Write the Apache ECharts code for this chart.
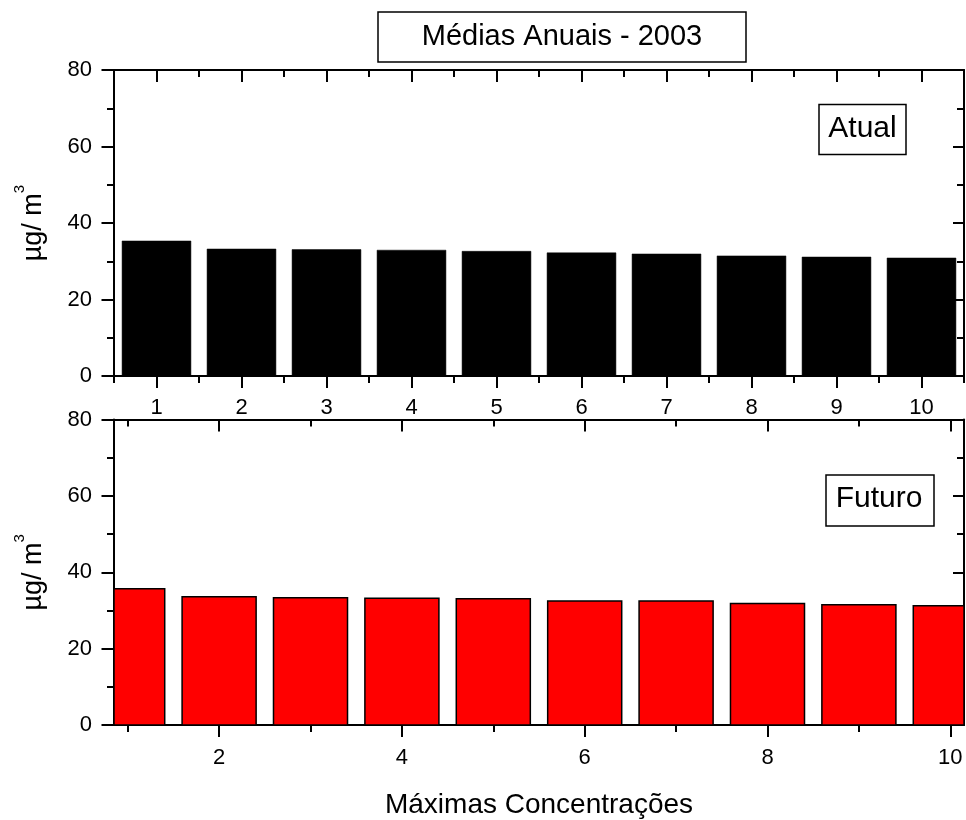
<!DOCTYPE html>
<html>
<head>
<meta charset="utf-8">
<script src="https://cdn.jsdelivr.net/npm/echarts@6/dist/echarts.min.js"></script>
<style>
  html, body { margin: 0; padding: 0; background: #fff; }
  #chart { width: 966px; height: 820px; }
</style>
</head>
<body>
<div id="chart"></div>
<script>
// Rank of each maximum (1st .. 10th highest concentration)
const positions = [1, 2, 3, 4, 5, 6, 7, 8, 9, 10];
// Annual means, µg/m³
const atual = [35.3, 33.2, 33.05, 32.9, 32.6, 32.2, 31.9, 31.4, 31.1, 30.85];
const futuro = [35.7, 33.6, 33.3, 33.2, 33.05, 32.5, 32.45, 31.8, 31.5, 31.2];

// Tick positions on the horizontal axes
const topMajorTicks = [1, 2, 3, 4, 5, 6, 7, 8, 9, 10];
const topMinorTicks = [0.5, 1.5, 2.5, 3.5, 4.5, 5.5, 6.5, 7.5, 8.5, 9.5, 10.5];
const bottomMajorTicks = [2, 4, 6, 8, 10];
const bottomMinorTicks = [1, 3, 5, 7, 9];

// Texts
const chartTitle = 'Médias Anuais - 2003';
const labelAtual = 'Atual';
const labelFuturo = 'Futuro';
const xTitle = 'Máximas Concentrações';

const FONT = '"Liberation Sans", Arial, Helvetica, sans-serif';
const INK = '#000';
const BAR_RATIO = 0.81;

function hAxis(gridIndex, position, min, max, ticks, tickLen, inside, showLine, showLabel, labelMargin, extra) {
  return Object.assign({
    gridIndex: gridIndex,
    type: 'value',
    position: position,
    min: min,
    max: max,
    axisLine: { show: showLine, onZero: false, lineStyle: { color: INK, width: 2 } },
    axisTick: { show: true, inside: inside, length: tickLen, customValues: ticks,
                lineStyle: { color: INK, width: 2 } },
    axisLabel: { show: showLabel, customValues: ticks, margin: labelMargin,
                 color: INK, fontSize: 22, fontFamily: FONT },
    splitLine: { show: false }
  }, extra || {});
}

const yName = {
  name: '{a|µg/ m}{b|3}',
  nameLocation: 'middle',
  nameGap: 58,
  nameTextStyle: {
    rich: {
      a: { fontSize: 27, fontFamily: FONT, color: INK, lineHeight: 44 },
      b: { fontSize: 15, fontFamily: FONT, color: INK, verticalAlign: 'top', lineHeight: 15 }
    }
  }
};

function vAxis(gridIndex, position) {
  const left = position === 'left';
  return Object.assign({
    gridIndex: gridIndex,
    type: 'value',
    position: position,
    min: 0,
    max: 80,
    interval: 20,
    axisLine: { show: true, onZero: false, lineStyle: { color: INK, width: 2 } },
    axisTick: { show: true, inside: !left, length: left ? 12.5 : 11, lineStyle: { color: INK, width: 2 } },
    minorTick: { show: true, splitNumber: 2, length: 7, lineStyle: { color: INK, width: 2 } },
    axisLabel: { show: left, margin: 22, color: INK, fontSize: 22, fontFamily: FONT },
    splitLine: { show: false }
  }, left ? yName : {});
}

// Bars drawn through the axis scales and clipped to the plot frame
function barRenderer(fill, stroke, lineWidth) {
  return function (params, api) {
    const x = api.value(0);
    const v = api.value(1);
    const w = api.size([BAR_RATIO, 0])[0];
    const top = api.coord([x, v]);
    const base = api.coord([x, 0]);
    const cs = params.coordSys;
    const rect = echarts.graphic.clipRectByRect(
      { x: top[0] - w / 2, y: top[1], width: w, height: base[1] - top[1] },
      { x: cs.x, y: cs.y, width: cs.width, height: cs.height }
    );
    if (!rect) return null;
    return {
      type: 'rect',
      shape: rect,
      style: { fill: fill, stroke: stroke, lineWidth: lineWidth }
    };
  };
}

const chart = echarts.init(document.getElementById('chart'), null, { renderer: 'canvas' });

chart.setOption({
  backgroundColor: '#fff',
  animation: false,
  grid: [
    { left: 114, right: 2, top: 70, height: 306 },
    { left: 114, right: 2, top: 419.5, height: 305.5 }
  ],
  xAxis: [
    // upper panel
    hAxis(0, 'bottom', 0.5, 10.5, topMajorTicks, 12, false, true, true, 21),
    hAxis(0, 'bottom', 0.5, 10.5, topMinorTicks, 7, false, false, false, 0),
    hAxis(0, 'top', 0.5, 10.5, topMajorTicks, 12, true, true, false, 0),
    hAxis(0, 'top', 0.5, 10.5, topMinorTicks, 7, true, false, false, 0),
    // lower panel
    hAxis(1, 'bottom', 0.85, 10.15, bottomMajorTicks, 12, false, true, true, 22, {
      name: xTitle, nameLocation: 'middle', nameGap: 66,
      nameTextStyle: { fontSize: 28, fontFamily: FONT, color: INK }
    }),
    hAxis(1, 'bottom', 0.85, 10.15, bottomMinorTicks, 7, false, false, false, 0),
    hAxis(1, 'top', 0.85, 10.15, bottomMajorTicks, 12, true, true, false, 0),
    hAxis(1, 'top', 0.85, 10.15, bottomMinorTicks, 7, true, false, false, 0)
  ],
  yAxis: [
    vAxis(0, 'left'),
    vAxis(0, 'right'),
    vAxis(1, 'left'),
    vAxis(1, 'right')
  ],
  series: [
    {
      name: labelAtual,
      type: 'custom',
      xAxisIndex: 0,
      yAxisIndex: 0,
      data: positions.map((p, i) => [p, atual[i]]),
      renderItem: barRenderer('#000', '#000', 0.5)
    },
    {
      name: labelFuturo,
      type: 'custom',
      xAxisIndex: 4,
      yAxisIndex: 2,
      data: positions.map((p, i) => [p, futuro[i]]),
      renderItem: barRenderer('#ff0000', '#000', 1.5)
    }
  ],
  graphic: [
    { type: 'rect', shape: { x: 378, y: 12, width: 368, height: 50 },
      style: { fill: '#fff', stroke: INK, lineWidth: 1.5 } },
    { type: 'text', x: 562, y: 37,
      style: { text: chartTitle, fontSize: 29, fontFamily: FONT, fill: INK,
               align: 'center', verticalAlign: 'middle' } },
    { type: 'rect', shape: { x: 819, y: 104.5, width: 87, height: 50 },
      style: { fill: '#fff', stroke: INK, lineWidth: 1.5 } },
    { type: 'text', x: 862.5, y: 129,
      style: { text: labelAtual, fontSize: 30, fontFamily: FONT, fill: INK,
               align: 'center', verticalAlign: 'middle' } },
    { type: 'rect', shape: { x: 826, y: 475, width: 108, height: 51 },
      style: { fill: '#fff', stroke: INK, lineWidth: 1.5 } },
    { type: 'text', x: 879, y: 499,
      style: { text: labelFuturo, fontSize: 30, fontFamily: FONT, fill: INK,
               align: 'center', verticalAlign: 'middle' } }
  ]
});
</script>
</body>
</html>
